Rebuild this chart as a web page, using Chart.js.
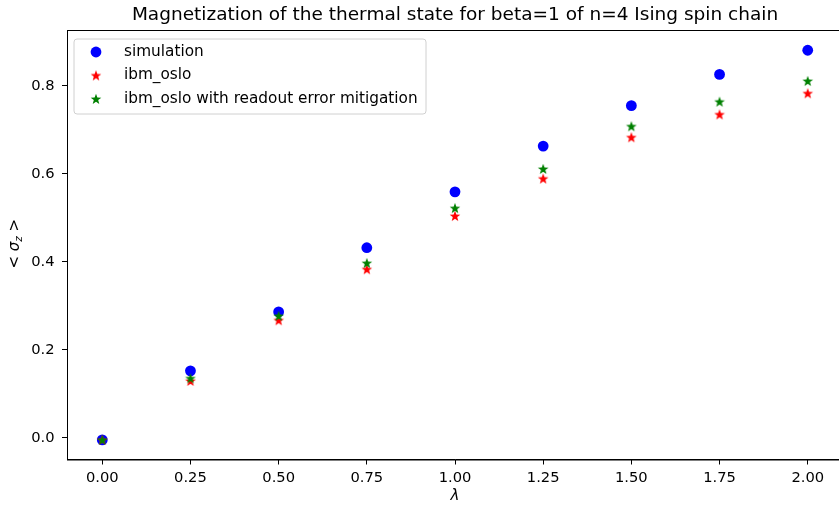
<!DOCTYPE html>
<html>
<head>
<meta charset="utf-8">
<script src="https://cdn.jsdelivr.net/npm/chart.js@4.4.0/dist/chart.umd.min.js"></script>
<style>
  html, body { margin: 0; padding: 0; background: #fff; overflow: hidden; }
  #wrap { width: 839px; height: 508px; overflow: hidden; }
</style>
</head>
<body>
<div id="wrap"><canvas id="chart" width="844" height="508"></canvas></div>
<script>
// data
var lambdas = [0.00, 0.25, 0.50, 0.75, 1.00, 1.25, 1.50, 1.75, 2.00];
var simulation = [-0.005, 0.152, 0.286, 0.432, 0.559, 0.663, 0.755, 0.826, 0.881];
var ibmOslo = [-0.005, 0.129, 0.267, 0.383, 0.504, 0.589, 0.683, 0.735, 0.783];
var ibmOsloMitigated = [-0.005, 0.135, 0.277, 0.397, 0.522, 0.611, 0.708, 0.764, 0.811];
var xTicks = [0.00, 0.25, 0.50, 0.75, 1.00, 1.25, 1.50, 1.75, 2.00];
var yTicks = [0.0, 0.2, 0.4, 0.6, 0.8];

var FONT = "'DejaVu Sans', sans-serif";

function starCanvas(color) {
    var c = document.createElement('canvas');
    c.width = 12; c.height = 12;
    var g = c.getContext('2d');
    g.beginPath();
    for (var i = 0; i < 10; i++) {
        var r = (i % 2 === 0) ? 5.6 : 2.3;
        var a = -Math.PI / 2 + i * Math.PI / 5;
        var px = 6 + r * Math.cos(a), py = 6.4 + r * Math.sin(a);
        if (i === 0) g.moveTo(px, py); else g.lineTo(px, py);
    }
    g.closePath();
    g.fillStyle = color;
    g.fill();
    return c;
}
var redStar = starCanvas('#ff0000');
var greenStar = starCanvas('#008000');

function pts(ys) {
    return lambdas.map(function (x, i) { return { x: x, y: ys[i] }; });
}

var frame = {
    id: 'frame',
    afterDraw: function (chart) {
        var ctx = chart.ctx, a = chart.chartArea;
        ctx.save();
        ctx.strokeStyle = '#000';
        ctx.lineWidth = 1;
        ctx.strokeRect(a.left + 0.5, a.top + 0.5, a.right - a.left - 1, a.bottom - a.top);

        // title
        ctx.fillStyle = '#000';
        ctx.textAlign = 'center';
        ctx.textBaseline = 'middle';
        ctx.font = '18.5px ' + FONT;
        ctx.fillText('Magnetization of the thermal state for beta=1 of n=4 Ising spin chain', (a.left + a.right) / 2, 15);

        // x label
        ctx.font = 'italic 15px ' + FONT;
        ctx.fillText('\u03bb', (a.left + a.right) / 2, 496);

        // y label  < σ_z >
        ctx.save();
        ctx.translate(15, (a.top + a.bottom) / 2 - 1);
        ctx.rotate(-Math.PI / 2);
        ctx.textAlign = 'left';
        ctx.font = '15px ' + FONT;
        var w1 = ctx.measureText('< ').width;
        ctx.font = 'italic 15px ' + FONT;
        var w2 = ctx.measureText('\u03c3').width;
        ctx.font = 'italic 10.5px ' + FONT;
        var w3 = ctx.measureText('z').width;
        ctx.font = '15px ' + FONT;
        var w4 = ctx.measureText(' >').width;
        var x0 = -(w1 + w2 + w3 + w4) / 2;
        ctx.fillText('< ', x0, 0);
        ctx.font = 'italic 15px ' + FONT;
        ctx.fillText('\u03c3', x0 + w1, 0);
        ctx.font = 'italic 10.5px ' + FONT;
        ctx.fillText('z', x0 + w1 + w2, 4);
        ctx.font = '15px ' + FONT;
        ctx.fillText(' >', x0 + w1 + w2 + w3, 0);
        ctx.restore();

        // legend
        var lx = 74, ly = 39, lw = 352, lh = 75;
        ctx.beginPath();
        var r = 3;
        ctx.moveTo(lx + r, ly);
        ctx.arcTo(lx + lw, ly, lx + lw, ly + lh, r);
        ctx.arcTo(lx + lw, ly + lh, lx, ly + lh, r);
        ctx.arcTo(lx, ly + lh, lx, ly, r);
        ctx.arcTo(lx, ly, lx + lw, ly, r);
        ctx.closePath();
        ctx.fillStyle = 'rgba(255,255,255,0.8)';
        ctx.fill();
        ctx.strokeStyle = '#d0d0d0';
        ctx.stroke();

        var rows = [
            { label: 'simulation', kind: 'circle' },
            { label: 'ibm_oslo', kind: redStar },
            { label: 'ibm_oslo with readout error mitigation', kind: greenStar }
        ];
        ctx.font = '15.3px ' + FONT;
        ctx.textAlign = 'left';
        ctx.textBaseline = 'middle';
        rows.forEach(function (row, i) {
            var cy = 52 + i * 23.5;
            if (row.kind === 'circle') {
                ctx.beginPath();
                ctx.arc(96, cy, 5.4, 0, Math.PI * 2);
                ctx.fillStyle = '#0000ff';
                ctx.fill();
            } else {
                ctx.drawImage(row.kind, 90, cy - 6);
            }
            ctx.fillStyle = '#000';
            ctx.fillText(row.label, 124, cy);
        });
        ctx.restore();
    }
};

var ctx = document.getElementById('chart').getContext('2d');
var chart = new Chart(ctx, {
    type: 'scatter',
    data: {
        datasets: [{
            label: 'simulation',
            data: pts(simulation),
            order: 3,
            pointStyle: 'circle',
            pointRadius: 5.4,
            pointHoverRadius: 5.4,
            backgroundColor: '#0000ff',
            borderWidth: 0
        }, {
            label: 'ibm_oslo',
            data: pts(ibmOslo),
            order: 2,
            pointStyle: redStar,
            backgroundColor: '#ff0000',
            borderWidth: 0
        }, {
            label: 'ibm_oslo with readout error mitigation',
            data: pts(ibmOsloMitigated),
            order: 1,
            pointStyle: greenStar,
            backgroundColor: '#008000',
            borderWidth: 0
        }]
    },
    options: {
        responsive: false,
        animation: false,
        events: [],
        layout: { autoPadding: false, padding: { top: 30, right: 1, left: 0, bottom: 0 } },
        plugins: {
            legend: { display: false },
            title: { display: false },
            tooltip: { enabled: false }
        },
        scales: {
            x: {
                type: 'linear',
                min: -0.1,
                max: 2.1,
                afterFit: function (s) { s.height = 48.5; s.paddingLeft = 0; s.paddingRight = 0; },
                afterBuildTicks: function (s) { s.ticks = xTicks.map(function (v) { return { value: v }; }); },
                ticks: {
                    color: '#000',
                    font: { family: FONT, size: 14.7 },
                    padding: 5,
                    maxRotation: 0,
                    callback: function (v) { return v.toFixed(2); }
                },
                grid: { drawOnChartArea: false, drawTicks: true, tickLength: 5, tickColor: '#000' },
                border: { display: true, color: '#000', width: 1 }
            },
            y: {
                type: 'linear',
                min: -0.0495,
                max: 0.927,
                afterFit: function (s) { s.width = 67; s.paddingTop = 0; s.paddingBottom = 0; },
                afterBuildTicks: function (s) { s.ticks = yTicks.map(function (v) { return { value: v }; }); },
                ticks: {
                    color: '#000',
                    font: { family: FONT, size: 14.7 },
                    padding: 7.5,
                    callback: function (v) { return v.toFixed(1); }
                },
                grid: { drawOnChartArea: false, drawTicks: true, tickLength: 5, tickColor: '#000' },
                border: { display: true, color: '#000', width: 1 }
            }
        }
    },
    plugins: [frame]
});
</script>
</body>
</html>
